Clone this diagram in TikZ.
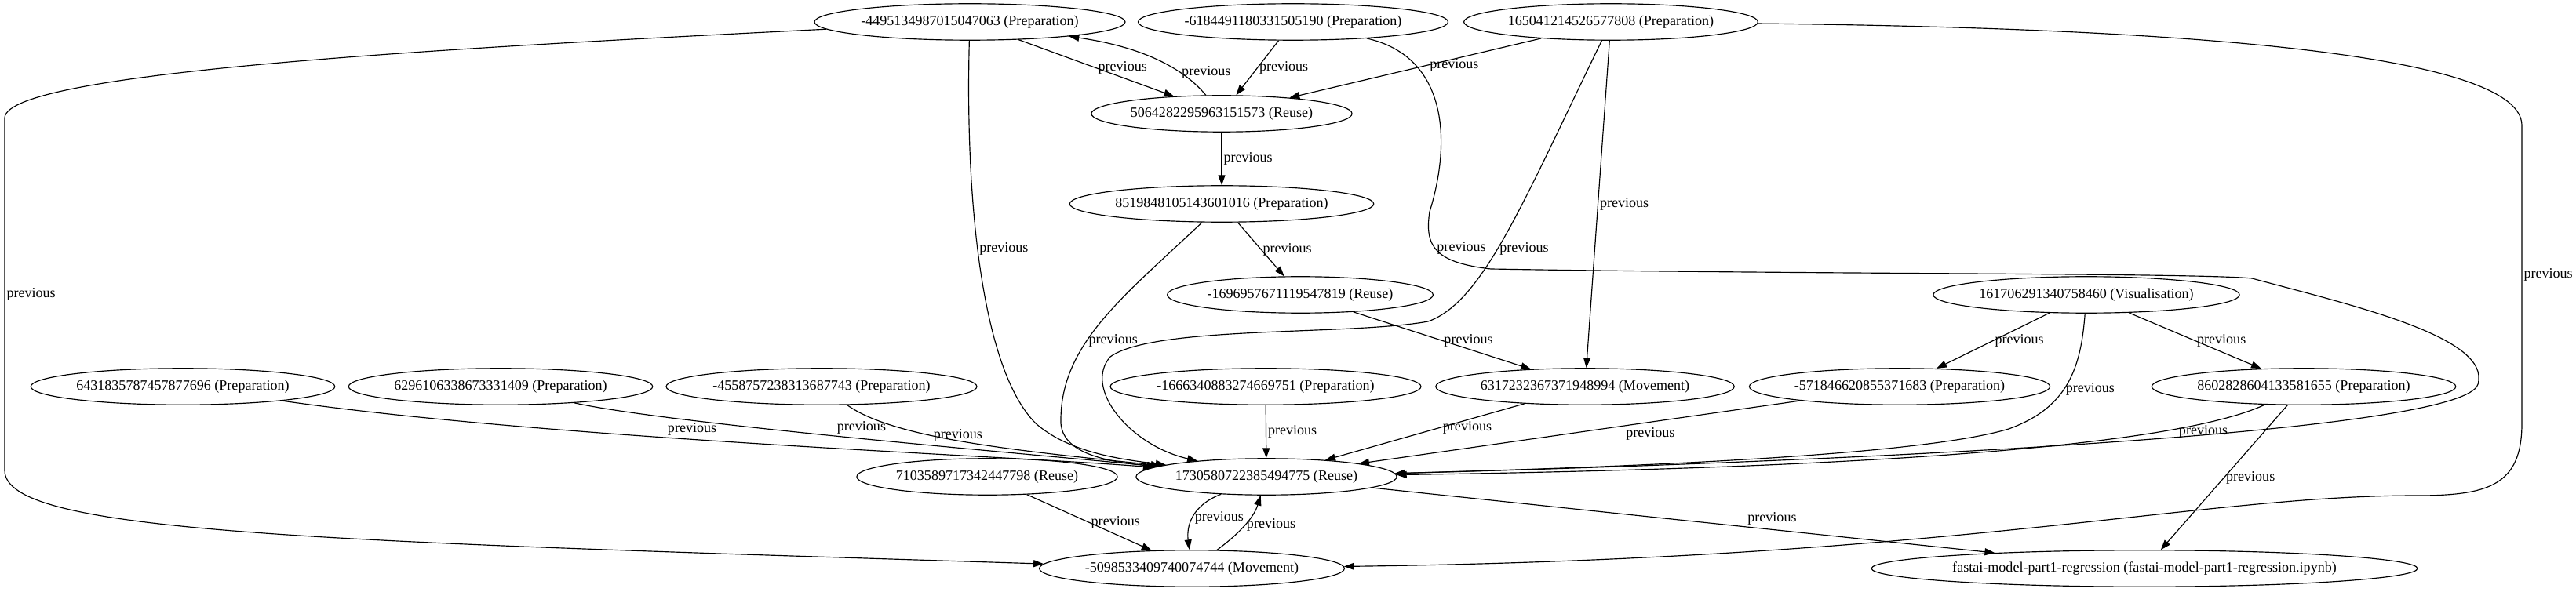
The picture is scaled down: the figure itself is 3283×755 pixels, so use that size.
\documentclass[tikz,border=0pt]{standalone}
\usepackage{fontspec}
\setmainfont{Liberation Serif}
\usetikzlibrary{arrows.meta,shapes.geometric}
\newcommand{\gvfont}{\fontsize{14pt}{16pt}\selectfont}
\tikzset{
  op/.style={draw, ellipse, line width=0.9pt, minimum height=36pt, inner xsep=1pt, inner ysep=0pt, font=\gvfont},
  link/.style={-{Triangle[length=10pt,width=7pt]}, line width=0.9pt},
  lbl/.style={font=\gvfont, inner sep=1.5pt},
}
\begin{document}
\begin{tikzpicture}[x=0.775pt, y=-0.775pt]
        \useasboundingbox (0,0) rectangle (3283,755);
        \node[op] (n4495) at (1236,28) {-4495134987015047063 (Preparation)};
        \node[op] (n6184) at (1648,28) {-6184491180331505190 (Preparation)};
        \node[op] (n1650) at (2053,28) {165041214526577808 (Preparation)};
        \node[op] (n5064) at (1557,145) {5064282295963151573 (Reuse)};
        \node[op] (n8519) at (1557,260) {8519848105143601016 (Preparation)};
        \node[op] (n1696) at (1657,376) {-1696957671119547819 (Reuse)};
        \node[op] (n1617) at (2659,376) {161706291340758460 (Visualisation)};
        \node[op] (n6431) at (233,493) {6431835787457877696 (Preparation)};
        \node[op] (n6296) at (638,493) {6296106338673331409 (Preparation)};
        \node[op] (n4558) at (1047,493) {-4558757238313687743 (Preparation)};
        \node[op] (n1666) at (1613,493) {-1666340883274669751 (Preparation)};
        \node[op] (n6317) at (2020,493) {6317232367371948994 (Movement)};
        \node[op] (n5718) at (2421,493) {-571846620855371683 (Preparation)};
        \node[op] (n8602) at (2936,493) {8602828604133581655 (Preparation)};
        \node[op] (n7103) at (1258,608) {7103589717342447798 (Reuse)};
        \node[op] (n1730) at (1614,608) {1730580722385494775 (Reuse)};
        \node[op] (n5098) at (1519,725) {-5098533409740074744 (Movement)};
        \node[op] (nfast) at (2733,725) {fastai-model-part1-regression (fastai-model-part1-regression.ipynb)};
        \draw[link] (n4495) -- (n5064) node[lbl, midway, right] {previous};
        \draw[link] (n5064) .. controls (1515,95) and (1470,62) .. (n4495) node[lbl, pos=0.35, right] {previous};
        \draw[link] (n6184) -- (n5064) node[lbl, midway, right] {previous};
        \draw[link] (n1650) -- (n5064) node[lbl, pos=0.45, right] {previous};
        \draw[link] (n5064) -- (n8519) node[lbl, midway, right] {previous};
        \draw[link] (n8519) -- (n1696) node[lbl, midway, right] {previous};
        \draw[link] (n8519) .. controls (1430,380) and (1350,440) .. (1352,540) node[lbl, pos=0.6, right] {previous} .. controls (1355,575) and (1400,588) .. (n1730);
        \draw[link] (n4495) .. controls (1230,250) and (1250,470) .. (1320,540) node[lbl, pos=0.45, right] {previous} .. controls (1360,575) and (1420,585) .. (n1730);
        \draw[link] (n1650) .. controls (1940,260) and (1890,385) .. (1820,410) node[lbl, pos=0.55, right] {previous} .. controls (1720,428) and (1470,415) .. (1415,455) .. controls (1380,495) and (1440,568) .. (n1730);
        \draw[link] (n6184) .. controls (1845,72) and (1850,180) .. (1822,270) .. controls (1815,315) and (1830,335) .. (1900,343) node[lbl, pos=0.45, right] {previous} .. controls (2300,350) and (2800,348) .. (2870,355) .. controls (3000,390) and (3175,430) .. (3158,490) .. controls (3140,555) and (2300,590) .. (n1730);
        \draw[link] (n1650) -- (n6317) node[lbl, midway, right] {previous};
        \draw[link] (n1696) -- (n6317) node[lbl, midway, right] {previous};
        \draw[link] (n4495) .. controls (600,60) and (10,90) .. (6,150) -- (6,600) node[lbl, midway, right] {previous} .. controls (6,680) and (400,690) .. (n5098);
        \draw[link] (n1650) .. controls (2700,35) and (3214,60) .. (3214,160) -- (3214,540) node[lbl, midway, right] {previous} .. controls (3214,620) and (3170,632) .. (3080,632) .. controls (2800,632) and (2500,712) .. (n5098);
        \draw[link] (n1617) -- (n5718) node[lbl, midway, right] {previous};
        \draw[link] (n1617) -- (n8602) node[lbl, midway, right] {previous};
        \draw[link] (n1617) .. controls (2652,470) and (2635,520) .. (2560,547) node[lbl, pos=0.55, right] {previous} .. controls (2450,580) and (2100,595) .. (n1730);
        \draw[link] (n8602) .. controls (2760,575) and (2300,598) .. (n1730) node[lbl, pos=0.15, below] {previous};
        \draw[link] (n8602) -- (nfast) node[lbl, midway, right] {previous};
        \draw[link] (n1730) -- (nfast) node[lbl, pos=0.6, above right] {previous};
        \draw[link] (n5718) -- (n1730) node[lbl, pos=0.4, below right] {previous};
        \draw[link] (n6317) -- (n1730) node[lbl, pos=0.42, right] {previous};
        \draw[link] (n1666) -- (n1730) node[lbl, midway, right] {previous};
        \draw[link] (n4558) .. controls (1140,560) and (1300,575) .. (n1730) node[lbl, pos=0.38, right] {previous};
        \draw[link] (n6296) .. controls (850,540) and (1300,578) .. (n1730) node[lbl, pos=0.48, above right] {previous};
        \draw[link] (n6431) .. controls (700,560) and (1300,582) .. (n1730) node[lbl, pos=0.4, above right] {previous};
        \draw[link] (n7103) -- (n5098) node[lbl, midway, right] {previous};
        \draw[link] (n1730) .. controls (1518,645) and (1512,672) .. (n5098) node[lbl, midway, right] {previous};
        \draw[link] (n5098) .. controls (1580,680) and (1598,660) .. (n1730) node[lbl, midway, right] {previous};
    \end{tikzpicture}
\end{document}
